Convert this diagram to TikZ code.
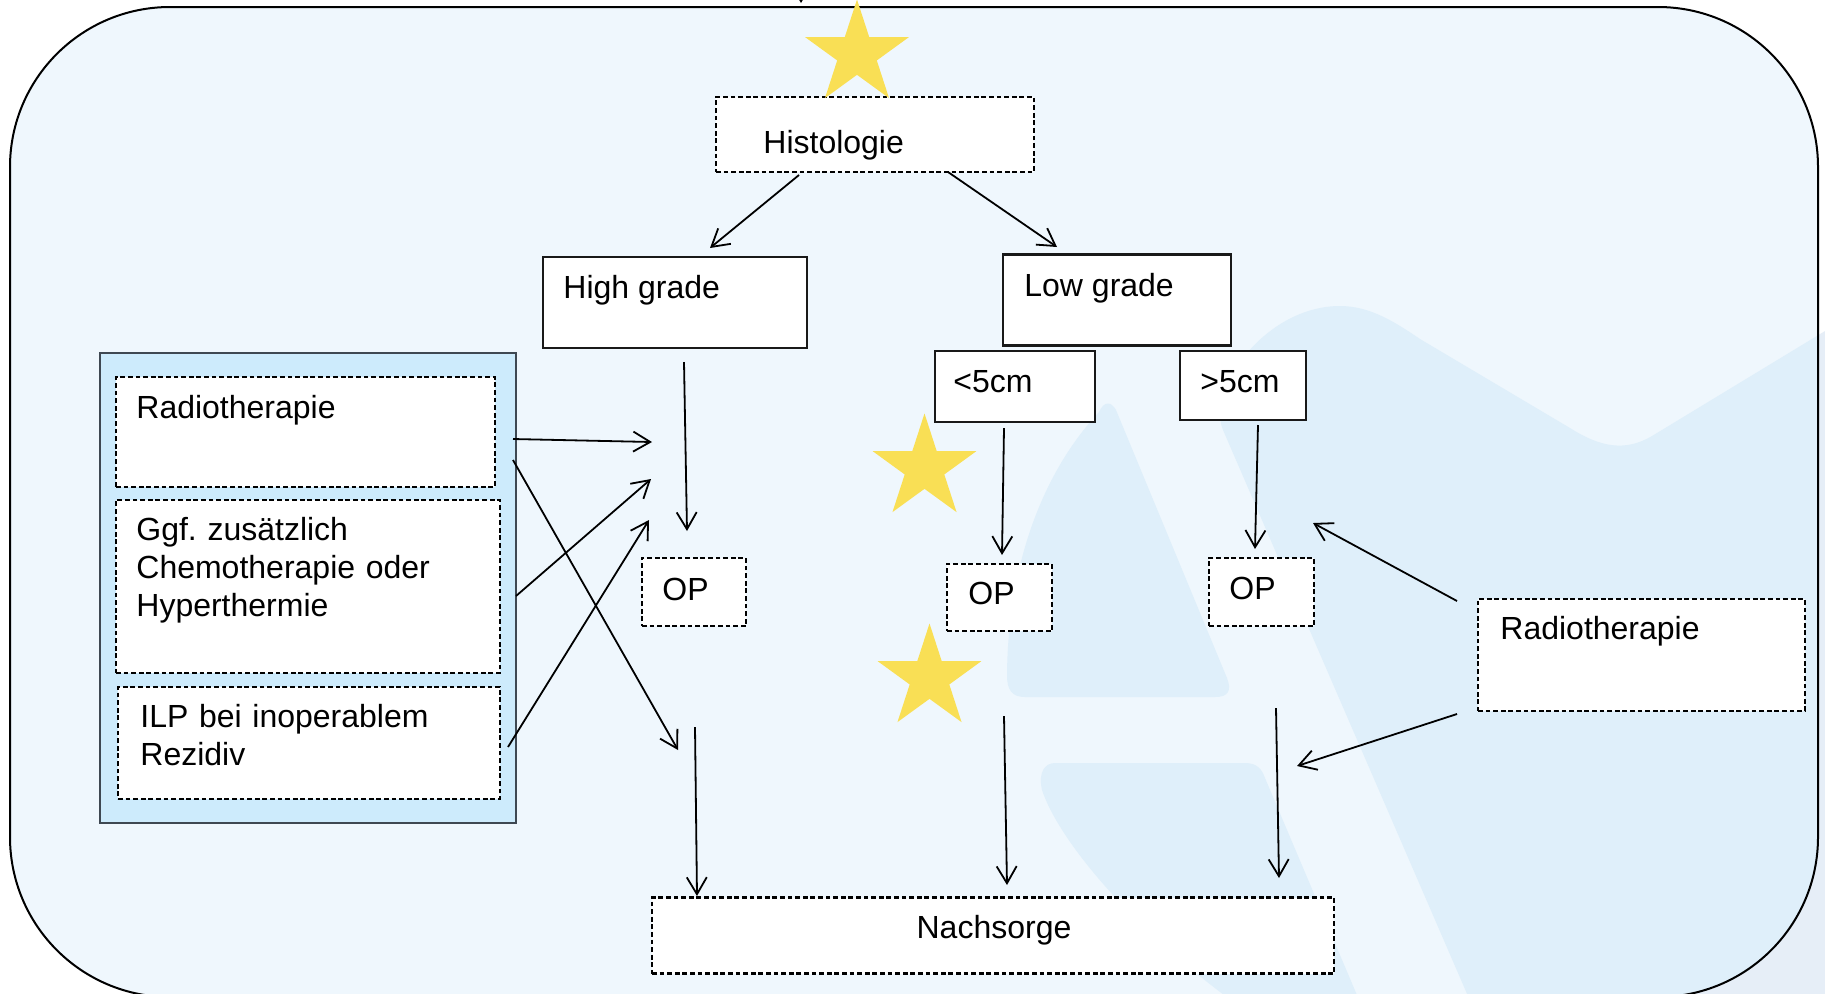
\documentclass[tikz,border=0pt]{standalone}
\usepackage{fontspec}
\setmainfont{Liberation Sans}
\usetikzlibrary{arrows.meta,shapes.geometric}
\frenchspacing

\definecolor{bgblue}{HTML}{EFF7FD}
\definecolor{logoin}{HTML}{DFEFFA}
\definecolor{logoout}{HTML}{E6EEF7}
\definecolor{panelblue}{HTML}{CDEBFC}
\definecolor{panelline}{HTML}{3E4852}
\definecolor{stargold}{HTML}{F9DF55}

% 背景标志
\newcommand{\logopath}{%
  (1487,1040) -- (1223,430) .. controls (1206,390) and (1265,306) .. (1340,306)
  .. controls (1370,306) and (1395,322) .. (1420,339) -- (1570,428)
  .. controls (1600,447) and (1625,452) .. (1652,436) -- (1830,328)
  -- (1900,300) -- (1900,1040) -- cycle
  (1099,412) .. controls (1104,401) and (1111,401) .. (1116,410) -- (1227,678)
  .. controls (1232,691) and (1228,697) .. (1215,697) -- (1025,697)
  .. controls (1012,697) and (1007,690) .. (1007,675)
  .. controls (1008,560) and (1045,470) .. (1099,412) -- cycle
  (1055,763) -- (1245,763) .. controls (1258,763) and (1262,770) .. (1265,778)
  -- (1376,1040) -- (1290,1040) .. controls (1160,960) and (1062,850) .. (1042,790)
  .. controls (1038,772) and (1045,763) .. (1055,763) -- cycle}

\begin{document}
\begin{tikzpicture}[x=0.5pt,y=-0.5pt,>={Straight Barb[length=8.5pt,width=10pt]},
    solidbox/.style={draw=black!90,line width=1.2pt,fill=white,inner sep=0pt},
    dashbox/.style={draw=black,line width=1.1pt,dash pattern=on 2.4pt off 1.4pt,fill=white,inner sep=0pt},
    txt/.style={anchor=base west,inner sep=0pt,font=\fontsize{16pt}{19pt}\selectfont},
    arr/.style={->,line width=0.9pt},
    goldstar/.style={star,star points=5,star point ratio=2.618,fill=stargold,minimum size=54.5pt,inner sep=0pt}]

    \useasboundingbox (0,0) rectangle (1825,993);
    \fill[white] (0,0) rectangle (1825,993);

    % 背景
    \fill[logoout] \logopath;
    \fill[bgblue,rounded corners=80pt] (10,7) rectangle (1818,997);
    \begin{scope}
        \clip[rounded corners=80pt] (10,7) rectangle (1818,997);
        \fill[logoin] \logopath;
    \end{scope}
    \draw[line width=1pt,rounded corners=80pt] (10,7) rectangle (1818,997);

    % 左侧面板
    \node[draw=panelline,line width=1pt,fill=panelblue,minimum width=208pt,minimum height=235pt,inner sep=0pt] (panel) at (308,588) {};

    % 方框
    \node[dashbox,minimum width=159pt,minimum height=37.5pt] (hist) at (875,134.5) {};
    \node[solidbox,minimum width=132pt,minimum height=45.5pt] (hg) at (675,302.5) {};
    \node[solidbox,minimum width=114pt,minimum height=45.5pt] (lg) at (1117,300) {};
    \node[solidbox,minimum width=80pt,minimum height=35.5pt] (lt5) at (1015,386.5) {};
    \node[solidbox,minimum width=63pt,minimum height=34.5pt] (gt5) at (1243,385.5) {};
    \node[dashbox,minimum width=52pt,minimum height=34pt] (op1) at (694,592) {};
    \node[dashbox,minimum width=52.5pt,minimum height=33.5pt] (op2) at (999.5,597.5) {};
    \node[dashbox,minimum width=52.5pt,minimum height=34pt] (op3) at (1261.5,592) {};
    \node[dashbox,minimum width=163.5pt,minimum height=56pt] (radr) at (1641.5,655) {};
    \node[dashbox,minimum width=341pt,minimum height=38pt] (nach) at (993,935.5) {};
    \node[dashbox,minimum width=189.5pt,minimum height=55pt] (radl) at (305.5,432) {};
    \node[dashbox,minimum width=192pt,minimum height=86.5pt] (ggf) at (308,586.5) {};
    \node[dashbox,minimum width=191pt,minimum height=56pt] (ilp) at (309,743) {};

    % 星星
    \node[goldstar] (star1) at (857,54) {};
    \node[goldstar] (star2) at (924.5,468) {};
    \node[goldstar] (star3) at (929.5,678) {};

    % 文字
    \node[txt] (histt) at (763,153) {Histologie};
    \node[txt] (hgt) at (563,298) {High grade};
    \node[txt] (lgt) at (1024,296) {Low grade};
    \node[txt] (lt5t) at (953,392) {<5cm};
    \node[txt] (gt5t) at (1200,392) {>5cm};
    \node[txt] (op1t) at (662,600) {OP};
    \node[txt] (op2t) at (968,604) {OP};
    \node[txt] (op3t) at (1229,599) {OP};
    \node[txt] (radrt) at (1500,639) {Radiotherapie};
    \node[txt,anchor=base] (nacht) at (994,938) {Nachsorge};
    \node[txt] (radlt) at (136,418) {Radiotherapie};
    \node[txt,text width=180pt,align=left] (ggft) at (136,540) {Ggf. zusätzlich\\Chemotherapie oder\\Hyperthermie};
    \node[txt,text width=180pt,align=left] (ilpt) at (140,727) {ILP bei inoperablem\\Rezidiv};

    % 箭头端点
    \coordinate (a1) at (799,175);   \coordinate (b1) at (710,248);
    \coordinate (a2) at (948,172);   \coordinate (b2) at (1057,247);
    \coordinate (a3) at (684,362);   \coordinate (b3) at (687,531);
    \coordinate (a4) at (513,439);   \coordinate (b4) at (652,442);
    \coordinate (a5) at (516,596);   \coordinate (b5) at (651,479);
    \coordinate (a6) at (508,747);   \coordinate (b6) at (649,520);
    \coordinate (a7) at (513,460);   \coordinate (b7) at (678,750);
    \coordinate (a8) at (695,727);   \coordinate (b8) at (697,896);
    \coordinate (a9) at (1004,428);  \coordinate (b9) at (1002,555);
    \coordinate (a10) at (1258,425); \coordinate (b10) at (1255,549);
    \coordinate (a11) at (1004,716); \coordinate (b11) at (1007,885);
    \coordinate (a12) at (1276,708); \coordinate (b12) at (1279,878);
    \coordinate (a13) at (1457,601); \coordinate (b13) at (1313,523);
    \coordinate (a14) at (1457,714); \coordinate (b14) at (1297,766);
    \coordinate (a15) at (801,-20);  \coordinate (b15) at (801,3);

    % 箭头
    \foreach \i in {1,...,15} {
            \draw[arr] (a\i) -- (b\i);
        }

\end{tikzpicture}
\end{document}
